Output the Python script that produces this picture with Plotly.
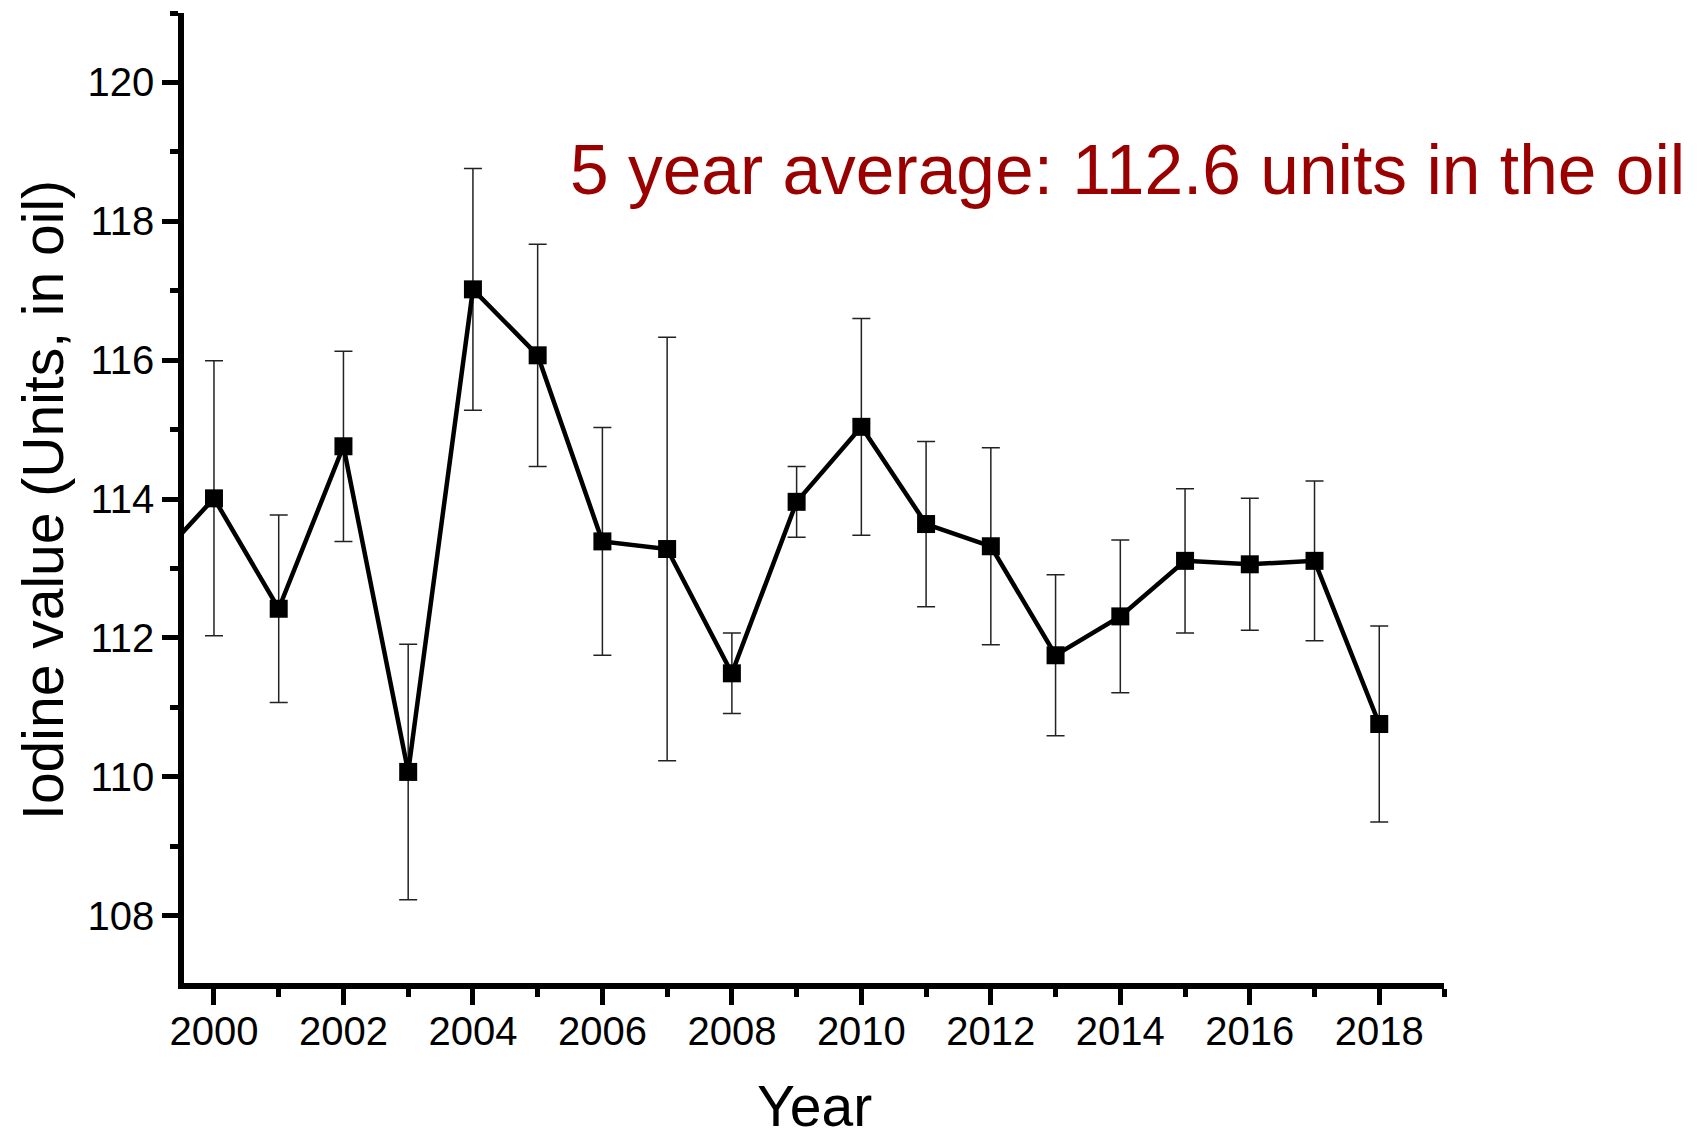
import plotly.graph_objects as go

# Data
years = [1999, 2000, 2001, 2002, 2003, 2004, 2005, 2006, 2007, 2008, 2009,
         2010, 2011, 2012, 2013, 2014, 2015, 2016, 2017, 2018]
iodine_values = [113.0, 114.01, 112.42, 114.76, 110.07, 117.02, 116.07, 113.39,
                 113.28, 111.49, 113.96, 115.04, 113.64, 113.32, 111.75, 112.31,
                 113.11, 113.06, 113.11, 110.76]
errors = [0.0, 1.98, 1.35, 1.37, 1.84, 1.74, 1.60, 1.64, 3.05, 0.58, 0.51,
          1.56, 1.19, 1.42, 1.16, 1.10, 1.04, 0.95, 1.15, 1.41]
x_tick_vals = [2000, 2002, 2004, 2006, 2008, 2010, 2012, 2014, 2016, 2018]
y_tick_vals = [108, 110, 112, 114, 116, 118, 120]
annotation_text = "5 year average: 112.6 units in the oil"
x_title = "Year"
y_title = "Iodine value (Units, in oil)"

FONT = "Liberation Sans, Arial, Helvetica, sans-serif"

fig = go.Figure()
fig.add_trace(go.Scatter(
    x=years, y=iodine_values,
    mode="lines+markers",
    line=dict(color="black", width=4.5),
    marker=dict(symbol="square", size=18, color="black"),
    error_y=dict(type="data", array=errors, visible=True,
                 color="#222222", thickness=1.5, width=9),
    showlegend=False,
))

axis_common = dict(
    showgrid=False, zeroline=False, showline=True, linecolor="black",
    linewidth=5.5, ticks="outside", ticklen=16, tickwidth=4.5,
    tickcolor="black", mirror=False,
    tickfont=dict(family=FONT, size=40, color="black"),
)

fig.update_xaxes(
    range=[1999.537, 2019.0], tickvals=x_tick_vals,
    ticklabelstandoff=-8,
    minor=dict(dtick=1, tick0=1999, ticks="outside", ticklen=8,
               tickwidth=4.5, tickcolor="black"),
    **axis_common,
)
fig.update_yaxes(
    range=[107.03, 121.0], tickvals=y_tick_vals,
    minor=dict(dtick=1, tick0=107, ticks="outside", ticklen=8,
               tickwidth=4.5, tickcolor="black"),
    **axis_common,
)

fig.add_annotation(
    text=annotation_text, xref="paper", yref="paper",
    x=0.3048, y=0.8385, xanchor="left", yanchor="middle", showarrow=False,
    font=dict(family=FONT, size=69.5, color="#9B0000"),
)
fig.add_annotation(
    text=x_title, xref="paper", yref="paper",
    x=0.5, y=-0.1265, xanchor="center", yanchor="middle", showarrow=False,
    font=dict(family=FONT, size=57, color="black"),
)
fig.add_annotation(
    text=y_title, xref="paper", yref="paper", textangle=-90,
    x=-0.1119, y=0.498, xanchor="center", yanchor="middle", showarrow=False,
    font=dict(family=FONT, size=57, color="black"),
)

fig.update_layout(
    width=1705, height=1131,
    margin=dict(l=176, r=269, t=5, b=156),
    paper_bgcolor="white", plot_bgcolor="white",
)

fig.write_html("out.html")
